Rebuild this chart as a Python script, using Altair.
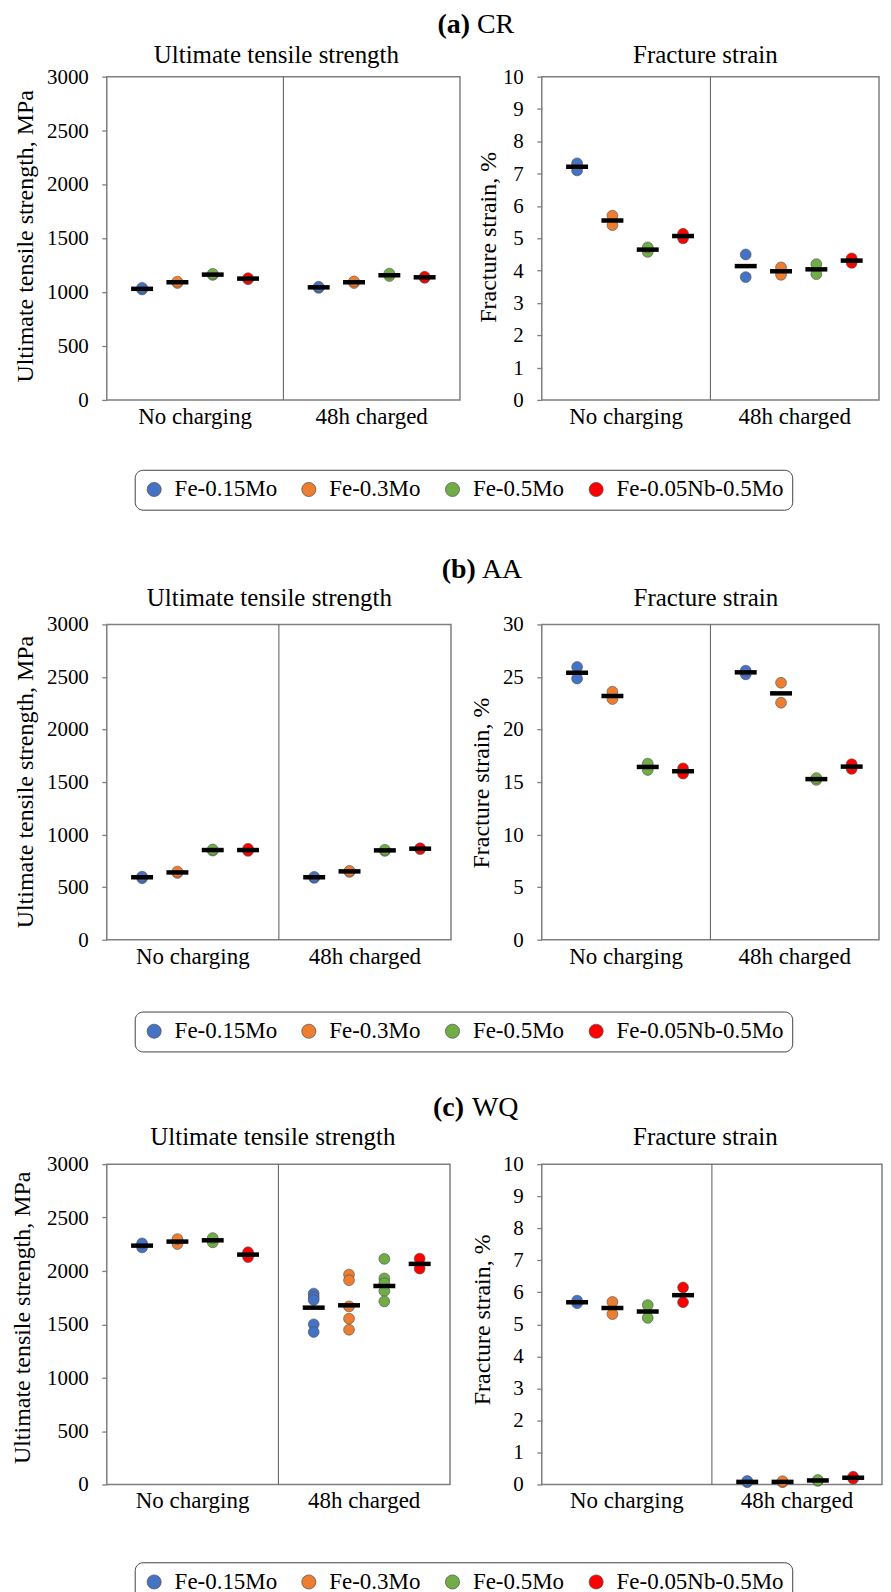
import altair as alt
import pandas as pd

FONT = "Liberation Serif"

alloys = ["Fe-0.15Mo", "Fe-0.3Mo", "Fe-0.5Mo", "Fe-0.05Nb-0.5Mo"]
alloy_colors = ["#4472C4", "#ED7D31", "#70AD47", "#FF0000"]
conditions = ["No charging", "48h charged"]

uts_ticks = [0, 500, 1000, 1500, 2000, 2500, 3000]
fs10_ticks = [0, 1, 2, 3, 4, 5, 6, 7, 8, 9, 10]
fs30_ticks = [0, 5, 10, 15, 20, 25, 30]

section_tags = ["(a)", "(b)", "(c)"]
section_names = ["CR", "AA", "WQ"]
panel_titles = ["Ultimate tensile strength", "Fracture strain"]
axis_titles = ["Ultimate tensile strength, MPa", "Fracture strain, %"]

# (a) CR
cr_uts_nc = [[1025, 1040], [1085, 1098], [1160, 1170], [1120, 1130]]
cr_uts_ch = [[1040, 1050], [1085, 1100], [1150, 1172], [1133, 1143]]
cr_uts_mean_nc = [1031, 1092, 1163, 1126]
cr_uts_mean_ch = [1045, 1092, 1157, 1138]
cr_fs_nc = [[7.10, 7.32], [5.41, 5.70], [4.58, 4.72], [5.00, 5.14]]
cr_fs_ch = [[3.80, 4.50], [3.87, 4.10], [3.89, 4.20], [4.24, 4.38]]
cr_fs_mean_nc = [7.21, 5.55, 4.65, 5.07]
cr_fs_mean_ch = [4.14, 3.98, 4.04, 4.31]

# (b) AA
aa_uts_nc = [[585, 600], [635, 648], [848, 858], [845, 865]]
aa_uts_ch = [[588, 598], [645, 655], [845, 855], [862, 870]]
aa_uts_mean_nc = [594, 640, 853, 853]
aa_uts_mean_ch = [594, 650, 850, 866]
aa_fs_nc = [[24.85, 25.95], [22.9, 23.6], [16.15, 16.75], [15.8, 16.3]]
aa_fs_ch = [[25.25, 25.6], [22.55, 24.45], [15.2, 15.38], [16.25, 16.7]]
aa_fs_mean_nc = [25.4, 23.2, 16.44, 16.03]
aa_fs_mean_ch = [25.44, 23.44, 15.28, 16.47]

# (c) WQ
wq_uts_nc = [[2220, 2258], [2252, 2298], [2268, 2308], [2130, 2175]]
wq_uts_ch = [[1788, 1755, 1728, 1500, 1428], [1966, 1913, 1668, 1553, 1449],
             [2113, 1930, 1885, 1812, 1715], [2116, 2022]]
wq_uts_mean_nc = [2237, 2275, 2287, 2153]
wq_uts_mean_ch = [1656, 1678, 1859, 2066]
wq_fs_nc = [[5.66, 5.74], [5.32, 5.70], [5.20, 5.60], [5.69, 6.15]]
wq_fs_ch = [[0.07, 0.11], [0.07, 0.10], [0.11, 0.14], [0.18, 0.24]]
wq_fs_mean_nc = [5.69, 5.51, 5.40, 5.91]
wq_fs_mean_ch = [0.08, 0.08, 0.125, 0.21]


def make_x(band_pos=None):
    kw = dict(
        sort=conditions,
        scale=alt.Scale(domain=conditions, paddingInner=0, paddingOuter=0),
        axis=None,
    )
    if band_pos is not None:
        kw["bandPosition"] = band_pos
    return alt.X("Condition:N", **kw)


def make_y(ymax, ticks):
    return alt.Y(
        "Value:Q",
        scale=alt.Scale(domain=[0, ymax], nice=False, zero=True),
        axis=alt.Axis(values=ticks, title=None, labels=False, ticks=True, tickSize=5,
                      tickColor="#7f7f7f", tickWidth=1.3, domain=False, grid=False),
    )


def text_layer(label, x, y, align, size, weight, angle=0):
    return alt.Chart(pd.DataFrame({"label": [label]})).mark_text(
        align=align, baseline="alphabetic", font=FONT, fontSize=size, angle=angle,
        fontWeight=weight, color="black").encode(
        text="label:N", x=alt.value(x), y=alt.value(y))


def panel(nc, ch, mnc, mch, ymax, ticks, kind, w, h, tx, ty, t_off, t_dx,
          legend=None, tag=None):
    rows, mrows = [], []
    for cond, groups, means in zip(conditions, [nc, ch], [mnc, mch]):
        for alloy, vals, m in zip(alloys, groups, means):
            for v in vals:
                rows.append({"Condition": cond, "Alloy": alloy, "Value": v})
            mrows.append({"Condition": cond, "Alloy": alloy, "Value": m})
    pts = pd.DataFrame(rows)
    mns = pd.DataFrame(mrows)

    X = make_x()
    Y = make_y(ymax, ticks)
    XO = alt.XOffset("Alloy:N", sort=alloys,
                     scale=alt.Scale(domain=alloys, paddingInner=0, paddingOuter=0.5))
    color = alt.Color("Alloy:N", sort=alloys,
                      scale=alt.Scale(domain=alloys, range=alloy_colors),
                      legend=legend)

    divider = alt.Chart(pd.DataFrame({"Condition": [conditions[1]]})).mark_rule(
        color="#595959", strokeWidth=1).encode(x=make_x(0))
    points = alt.Chart(pts).mark_circle(size=118, opacity=1, stroke="#4d4d4d",
                                        strokeWidth=0.6).encode(
        x=X, xOffset=XO, y=Y, color=color)
    mean_ticks = alt.Chart(mns).mark_tick(color="black", size=22, thickness=4.5,
                                          opacity=1).encode(x=X, xOffset=XO, y=Y)
    # tick labels of the value axis, placed through the y scale
    ytick_labels = alt.Chart(pd.DataFrame({"Value": ticks})).mark_text(
        align="right", baseline="alphabetic", dy=7, font=FONT, fontSize=21,
        fontWeight="normal", color="black").encode(
        y=Y, x=alt.value(-18), text=alt.Text("Value:Q", format="d"))
    # category labels, placed through the x scale
    xcat_labels = alt.Chart(pd.DataFrame({"Condition": conditions})).mark_text(
        align="center", baseline="alphabetic", font=FONT, fontSize=23,
        fontWeight="normal", color="black").encode(
        x=X, y=alt.value(h + 24), text="Condition:N")
    layers = [divider, points, mean_ticks, ytick_labels, xcat_labels,
              text_layer(axis_titles[kind], tx + 8, ty, "center", 24, "normal", angle=270),
              text_layer(panel_titles[kind], w / 2 + t_dx, -t_off, "center", 25, "normal")]
    if tag is not None:
        (t1, t2, x1, x2, yb) = tag
        layers.append(text_layer(t1, x1, yb, "right", 28, "bold"))
        layers.append(text_layer(t2, x2, yb, "left", 28, "normal"))
    return alt.layer(*layers).properties(width=w, height=h)


def make_legend(lx, ly):
    return alt.Legend(orient="none", legendX=lx, legendY=ly, direction="horizontal",
                      columns=4, title=None, labelFont=FONT, labelFontSize=23,
                      labelBaseline="middle", labelFontWeight="normal",
                      labelColor="black", labelLimit=400, symbolType="circle",
                      symbolSize=200, symbolStrokeColor="#4d4d4d", symbolStrokeWidth=0.7,
                      symbolOpacity=1, strokeColor="#404040", cornerRadius=8,
                      padding=8, columnPadding=20, labelOffset=9, fillColor="white")


uts_a = panel(cr_uts_nc, cr_uts_ch, cr_uts_mean_nc, cr_uts_mean_ch, 3000, uts_ticks, 0,
              354, 324, -82, 160, 14, -7, legend=make_legend(28, 394))
fs_a = panel(cr_fs_nc, cr_fs_ch, cr_fs_mean_nc, cr_fs_mean_ch, 10, fs10_ticks, 1,
             338, 324, -54, 161, 14, -5,
             tag=(section_tags[0], section_names[0], -72, -65, -44))

uts_b = panel(aa_uts_nc, aa_uts_ch, aa_uts_mean_nc, aa_uts_mean_ch, 3000, uts_ticks, 0,
              345, 316, -82, 158, 18, -9.5, legend=make_legend(28, 388))
fs_b = panel(aa_fs_nc, aa_fs_ch, aa_fs_mean_nc, aa_fs_mean_ch, 30, fs30_ticks, 1,
             338, 316, -61, 159, 18, -4.5,
             tag=(section_tags[1], section_names[1], -66, -60, -47))

uts_c = panel(wq_uts_nc, wq_uts_ch, wq_uts_mean_nc, wq_uts_mean_ch, 3000, uts_ticks, 0,
              344, 321, -85, 154, 19, -5.5, legend=make_legend(28, 399))
fs_c = panel(wq_fs_nc, wq_fs_ch, wq_fs_mean_nc, wq_fs_mean_ch, 10, fs10_ticks, 1,
             341, 321, -60, 156, 19, -6.5,
             tag=(section_tags[2], section_names[2], -78, -70, -48))

chart = alt.concat(
    uts_a, fs_a, uts_b, fs_b, uts_c, fs_c,
    columns=2, spacing={"row": 225, "column": 82}, bounds="flush",
).resolve_scale(color="independent").configure_legend(
    labelFont=FONT
).configure_view(
    stroke="#7f7f7f", strokeWidth=1.5
).properties(
    padding={"left": 2, "top": 0, "right": 0, "bottom": 0},
    background="white",
)

chart.save("out.html", embed_options={"renderer": "svg", "actions": False})
